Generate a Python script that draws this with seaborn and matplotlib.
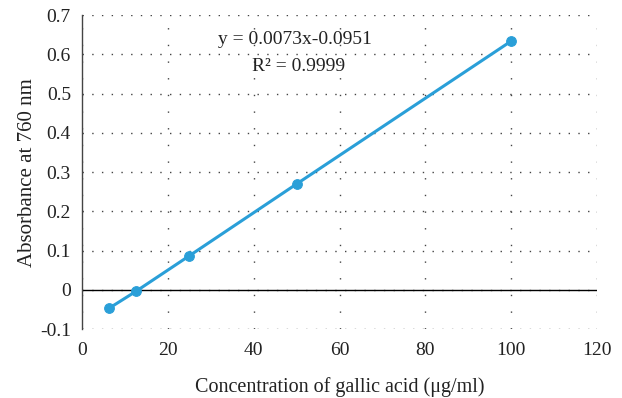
import matplotlib
matplotlib.use("Agg")
import matplotlib.pyplot as plt
import seaborn as sns
import pandas as pd

concentration = [6.25, 12.5, 25, 50, 100]
absorbance = [-0.047, -0.004, 0.087, 0.270, 0.634]
x_ticks = [0, 20, 40, 60, 80, 100, 120]
y_ticks = [-0.1, 0, 0.1, 0.2, 0.3, 0.4, 0.5, 0.6, 0.7]
y_tick_labels = ["-0.1", "0", "0.1", "0.2", "0.3", "0.4", "0.5", "0.6", "0.7"]

sns.set_style("white")
plt.rcParams["font.family"] = ["Liberation Serif", "DejaVu Serif"]

df = pd.DataFrame({"x": concentration, "y": absorbance})

fig = plt.figure(figsize=(6.22, 3.98), dpi=100)
ax = fig.add_axes([0.132, 0.173, 0.828, 0.789])

color = "#2a9fd8"
sns.lineplot(data=df, x="x", y="y", ax=ax, color=color, linewidth=2.2,
             marker="o", markersize=7, markeredgecolor=color, zorder=3)

ax.set_xlim(0, 120)
ax.set_ylim(-0.1, 0.7)
ax.set_xticks(x_ticks)
ax.set_xticklabels([str(t) for t in x_ticks])
ax.set_yticks(y_ticks)
ax.set_yticklabels(y_tick_labels)

ax.xaxis.grid(True, linestyle=(0, (1, 11)), color="#444444", linewidth=1.0)
ax.yaxis.grid(True, linestyle=(0, (1, 6)), color="#444444", linewidth=1.0)
for s in ["top", "right", "bottom"]:
    ax.spines[s].set_visible(False)
ax.spines["left"].set_color("#444444")
ax.spines["left"].set_linewidth(1.0)
ax.axhline(0, color="black", linewidth=1.0, zorder=2)

ax.tick_params(axis="x", length=0, labelsize=14, colors="#222222", pad=9)
ax.tick_params(axis="y", length=0, labelsize=14, colors="#222222", pad=8)
ax.set_xlabel("Concentration of gallic acid (μg/ml)", fontsize=14.5, color="#222222", labelpad=13)
ax.set_ylabel("Absorbance at 760 nm", fontsize=15, color="#222222", labelpad=2)

ax.text(49.5, 0.637, "y = 0.0073x-0.0951", ha="center", va="center", fontsize=14, color="#222222")
ax.text(50.5, 0.570, "R² = 0.9999", ha="center", va="center", fontsize=14, color="#222222")

fig.savefig("out.png", dpi=100)
